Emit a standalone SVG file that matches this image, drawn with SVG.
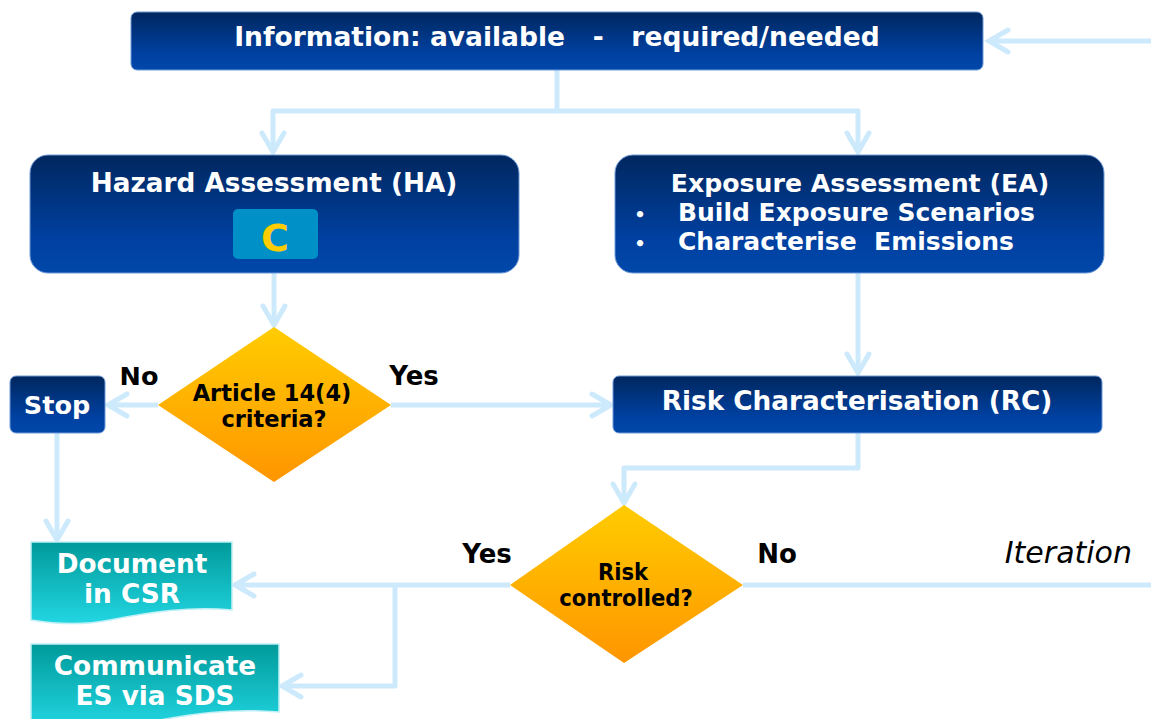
<svg xmlns="http://www.w3.org/2000/svg" width="1151" height="719" viewBox="0 0 1151 719">
<defs>
<linearGradient id="gBlue" x1="0" y1="0" x2="0" y2="1">
<stop offset="0" stop-color="#00275e"/>
<stop offset="0.7" stop-color="#0040a0"/>
<stop offset="1" stop-color="#0048aa"/>
</linearGradient>
<linearGradient id="gGold" x1="0" y1="0" x2="0" y2="1">
<stop offset="0" stop-color="#ffcc00"/>
<stop offset="1" stop-color="#ff9500"/>
</linearGradient>
<linearGradient id="gTeal" x1="0" y1="0" x2="0" y2="1">
<stop offset="0" stop-color="#009a9a"/>
<stop offset="1" stop-color="#22d6e2"/>
</linearGradient>
<marker id="arr" markerUnits="userSpaceOnUse" viewBox="-4 -4 30 32" markerWidth="30" markerHeight="32" refX="20" refY="12" orient="auto">
<path d="M1,1 L20,12 L1,23" fill="none" stroke="#cdeafd" stroke-width="5" stroke-linecap="round" stroke-linejoin="miter"/>
</marker>
<style>
.box{fill:url(#gBlue);stroke:#6f9ad8;stroke-width:1}
.dia{fill:url(#gGold)}
.doc{fill:url(#gTeal);stroke:#bff0f5;stroke-width:1.5}
.w{fill:#ffffff;font-family:"DejaVu Sans",Verdana,sans-serif;font-weight:bold;text-anchor:middle}
.ws{fill:#ffffff;font-family:"DejaVu Sans",Verdana,sans-serif;font-weight:bold;text-anchor:start}
.k{fill:#000000;font-family:"DejaVu Sans",Verdana,sans-serif;font-weight:bold;text-anchor:middle}
.kc{fill:#000000;font-family:"DejaVu Sans Condensed","DejaVu Sans",sans-serif;font-weight:bold;text-anchor:middle;font-size:23.5px}
.c{fill:none;stroke:#cdeafd;stroke-width:5;stroke-linejoin:round}
</style>
</defs>
<rect width="1151" height="719" fill="#ffffff"/>
<g id="connectors">
<path class="c" d="M1151,41 H989" marker-end="url(#arr)"/>
<path class="c" d="M557,70 V111 H273 V152" marker-end="url(#arr)"/>
<path class="c" d="M557,111 H858 V152" marker-end="url(#arr)"/>
<path class="c" d="M274,273 V325" marker-end="url(#arr)"/>
<path class="c" d="M858,273 V373" marker-end="url(#arr)"/>
<path class="c" d="M158,405 H108" marker-end="url(#arr)"/>
<path class="c" d="M391,405 H611" marker-end="url(#arr)"/>
<path class="c" d="M858,433 V468 H624 V503" marker-end="url(#arr)"/>
<path class="c" d="M57,433 V540" marker-end="url(#arr)"/>
<path class="c" d="M743,585 H1151"/>
<path class="c" d="M510,585 H235" marker-end="url(#arr)"/>
<path class="c" d="M395,585 V686 H282" marker-end="url(#arr)"/>
</g>
<g id="info">
<rect class="box" x="131" y="12" width="852" height="58" rx="6"/>
<text class="w" x="557" y="46" font-size="26.5" xml:space="preserve">Information: available   -   required/needed</text>
</g>
<g id="ha">
<rect class="box" x="30" y="155" width="489" height="118" rx="18"/>
<text class="w" x="274" y="192" font-size="26.3">Hazard Assessment (HA)</text>
<rect x="233" y="209" width="85" height="50" rx="5" fill="#0090c8"/>
<text x="275" y="251" font-family="DejaVu Sans,sans-serif" font-weight="bold" font-size="38" fill="#ffcc00" text-anchor="middle">C</text>
</g>
<g id="ea">
<rect class="box" x="615" y="155" width="489" height="118" rx="18"/>
<text class="w" x="860" y="192" font-size="25.2">Exposure Assessment (EA)</text>
<text class="w" x="640" y="221" font-size="18">•</text>
<text class="w" x="640" y="250" font-size="18">•</text>
<text class="ws" x="678" y="221" font-size="25">Build Exposure Scenarios</text>
<text class="ws" x="678" y="250" font-size="25" xml:space="preserve">Characterise  Emissions</text>
</g>
<g id="art14">
<polygon class="dia" points="274,327 391,405 274,482 158,405"/>
<text class="k" x="272" y="401" font-size="22.5">Article 14(4)</text>
<text class="k" x="274" y="427" font-size="22.5">criteria?</text>
</g>
<g id="stop">
<rect class="box" x="10" y="376" width="95" height="57" rx="6"/>
<text class="w" x="57" y="414" font-size="25.5">Stop</text>
</g>
<g id="rc">
<rect class="box" x="613" y="376" width="489" height="57" rx="6"/>
<text class="w" x="857" y="410" font-size="26.3">Risk Characterisation (RC)</text>
</g>
<g id="riskctl">
<polygon class="dia" points="624,505 743,585 624,663 510,585"/>
<text class="kc" x="623" y="580">Risk</text>
<text class="kc" x="626" y="606">controlled?</text>
</g>
<g id="doc">
<path class="doc" d="M31,542 H232 V610 C190,606 150,612 110,620 C80,626 55,624 31,620 Z"/>
<text class="w" x="132" y="573" font-size="26.3">Document</text>
<text class="w" x="132" y="603" font-size="26.3">in CSR</text>
</g>
<g id="sds">
<path class="doc" d="M31,644 H279 V712 C230,708 190,714 150,722 C110,730 70,728 31,722 Z"/>
<text class="w" x="155" y="675" font-size="26.3">Communicate</text>
<text class="w" x="155" y="705" font-size="26.3">ES via SDS</text>
</g>
<g id="labels">
<text class="k" x="139" y="385" font-size="25.5">No</text>
<text class="k" x="414" y="385" font-size="26">Yes</text>
<text class="k" x="487" y="563" font-size="26">Yes</text>
<text class="k" x="777" y="563" font-size="26">No</text>
<text x="1132" y="563" font-family="DejaVu Sans,sans-serif" font-style="italic" font-size="30" fill="#000000" text-anchor="end">Iteration</text>
</g>
</svg>
